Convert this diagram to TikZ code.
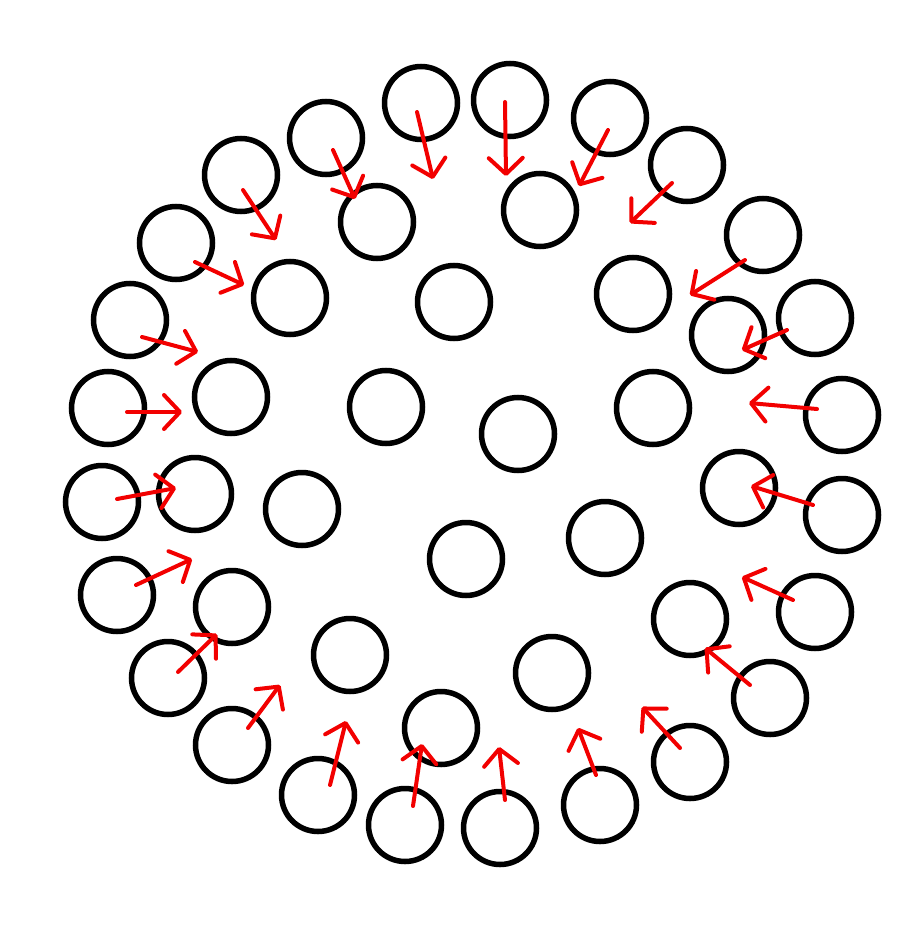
\documentclass[tikz,border=0pt]{standalone}
\usepackage{tikz}
\usetikzlibrary{arrows.meta}

\begin{document}
\begin{tikzpicture}[x=1pt,y=-1pt,
  ring/.style={shape=circle,draw=black,line width=5.5pt,minimum size=73pt,inner sep=0pt},
  push/.style={draw=red!95!black,line width=4pt,line cap=round,
    -{Straight Barb[length=16pt,width=34pt,line cap=round,line join=round]}}]
\useasboundingbox (0,0) rectangle (920,925);
% outer circles
\foreach \n/\x/\y in {1/421/103,2/510/100,3/610/118,4/687/165,5/763/235,6/815/318,
  7/842/415,8/842/515,9/815/612,10/770/698,11/690/762,12/600/805,13/500/828,
  14/405/825,15/318/795,16/232/745,17/168/678,18/117/595,19/102/502,20/108/408,
  21/130/320,22/176/243,23/241/175,24/326/138}
  \node[ring](o\n) at (\x,\y){};
% inner circles
\foreach \n/\x/\y in {1/377/222,2/540/210,3/290/298,4/454/302,5/633/294,6/728/335,
  7/231/397,8/386/407,9/518/434,10/653/408,11/195/494,12/302/509,13/739/488,
  14/466/559,15/605/538,16/232/607,17/690/619,18/350/655,19/552/673,20/441/728}
  \node[ring](i\n) at (\x,\y){};
% arrows
\foreach \n/\sx/\sy/\tx/\ty in {1/417/112/433/179,2/505/102/506/176,3/608/130/579/186,
  4/672/183/630/223,5/745/260/690/295,6/787/330/742/350,7/817/409/749/403,
  8/813/505/751/486,9/793/600/742/577,10/750/685/705/648,11/680/748/642/707,
  12/596/775/578/728,13/505/800/499/747,14/413/806/422/744,15/330/785/346/721,
  16/248/728/280/685,17/178/672/217/634,18/136/585/192/559,19/117/499/176/488,
  20/127/412/182/412,21/142/337/198/352,22/195/262/244/285,23/243/190/276/240,
  24/333/150/355/199}
{
  \coordinate(s\n) at (\sx,\sy);
  \coordinate(t\n) at (\tx,\ty);
  \draw[push](s\n)--(t\n);
}
\end{tikzpicture}
\end{document}
